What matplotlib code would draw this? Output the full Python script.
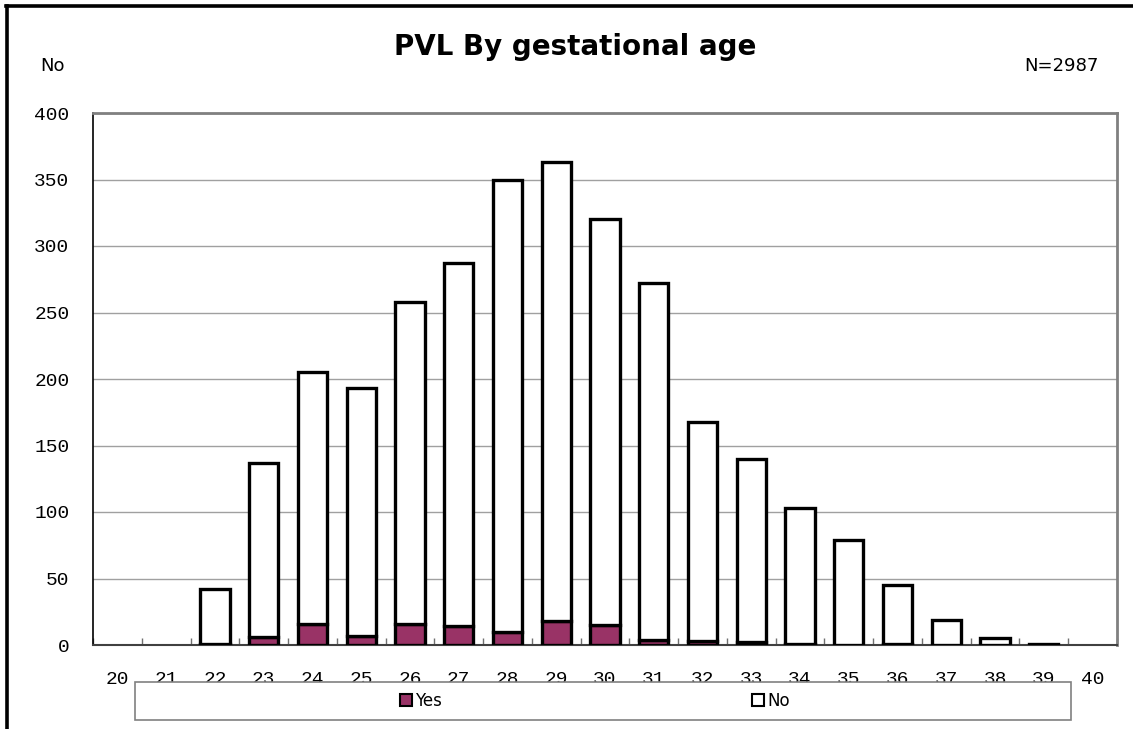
import matplotlib
matplotlib.use("Agg")
import matplotlib.pyplot as plt
from matplotlib.patches import Rectangle, Patch
from matplotlib.lines import Line2D
import numpy as np

ages = [str(a) for a in range(20, 41)]
totals = [0, 0, 42, 137, 205, 193, 258, 287, 350, 363, 320, 272, 168, 140, 103, 79, 45, 19, 5, 1, 0]
yes_vals = [0, 0, 1, 6, 16, 7, 16, 14, 10, 18, 15, 4, 3, 2, 1, 0, 1, 0, 0, 0, 0]
no_vals = [t - y for t, y in zip(totals, yes_vals)]
yticks = [0, 50, 100, 150, 200, 250, 300, 350, 400]

W, H = 1133, 729
fig = plt.figure(figsize=(W / 100, H / 100), dpi=100)
ax = fig.add_axes([93 / W, 84 / H, (1117 - 93) / W, (645 - 113) / H])

x = np.arange(len(ages))
bw = 0.6
yes_color = "#993366"
mask = np.array(totals) > 0
ax.bar(x[mask], np.array(yes_vals)[mask], bw, color=yes_color, edgecolor="black", linewidth=2.4, zorder=3)
ax.bar(x[mask], np.array(no_vals)[mask], bw, bottom=np.array(yes_vals)[mask], color="white",
       edgecolor="black", linewidth=2.4, zorder=3)

mono = "Liberation Mono"
ax.set_xlim(-0.5, len(ages) - 0.5)
ax.set_ylim(0, 400)
ax.set_yticks(yticks)
ax.set_yticklabels([str(v) for v in yticks], family=mono, fontsize=14)
ax.yaxis.grid(True, color="#a0a0a0", linewidth=1, zorder=0)
ax.set_axisbelow(True)
ax.tick_params(axis="y", direction="out", length=0, pad=17)

ax.set_xticks(x)
ax.set_xticklabels(ages, family=mono, fontsize=14)
ax.tick_params(axis="x", which="major", length=0, pad=19)
ax.set_xticks(np.arange(-0.5, len(ages) + 0.5, 1), minor=True)
ax.tick_params(axis="x", which="minor", direction="in", length=5, width=1, color="#707070")

for s in ["top", "right"]:
    ax.spines[s].set_color("#808080")
    ax.spines[s].set_linewidth(2)
ax.spines["left"].set_color("black")
ax.spines["left"].set_linewidth(1.2)
ax.spines["bottom"].set_color("#404040")
ax.spines["bottom"].set_linewidth(1.5)

fig.text(575 / W, 1 - 47 / H, "PVL By gestational age", ha="center", va="center",
         fontsize=20, fontweight="bold", family="DejaVu Sans")
fig.text(52 / W, 1 - 66 / H, "No", ha="center", va="center", fontsize=13, family="DejaVu Sans")
fig.text(1061 / W, 1 - 66 / H, "N=2987", ha="center", va="center", fontsize=13, family="DejaVu Sans")

# outer frame lines (top and left)
fig.add_artist(Line2D([6 / W, 1], [1 - 6 / H, 1 - 6 / H], color="black", linewidth=2.6, transform=fig.transFigure))
fig.add_artist(Line2D([7 / W, 7 / W], [0, 1 - 6 / H], color="black", linewidth=2.6, transform=fig.transFigure))

# legend box
box = Rectangle((135 / W, 9 / H), (1071 - 135) / W, (720 - 682) / H, transform=fig.transFigure,
                facecolor="white", edgecolor="#808080", linewidth=1.2, zorder=5)
fig.add_artist(box)
handles = [Patch(facecolor=yes_color, edgecolor="black", linewidth=1.5),
           Patch(facecolor="white", edgecolor="black", linewidth=1.5)]
leg = fig.legend(handles, ["Yes", "No"], loc="center", bbox_to_anchor=(595 / W, 1 - 701 / H),
                 ncol=2, frameon=False, fontsize=12, handlelength=0.7, handleheight=0.7,
                 handletextpad=0.2, columnspacing=18.6)
leg.set_zorder(6)

fig.savefig("out.png", dpi=100)
